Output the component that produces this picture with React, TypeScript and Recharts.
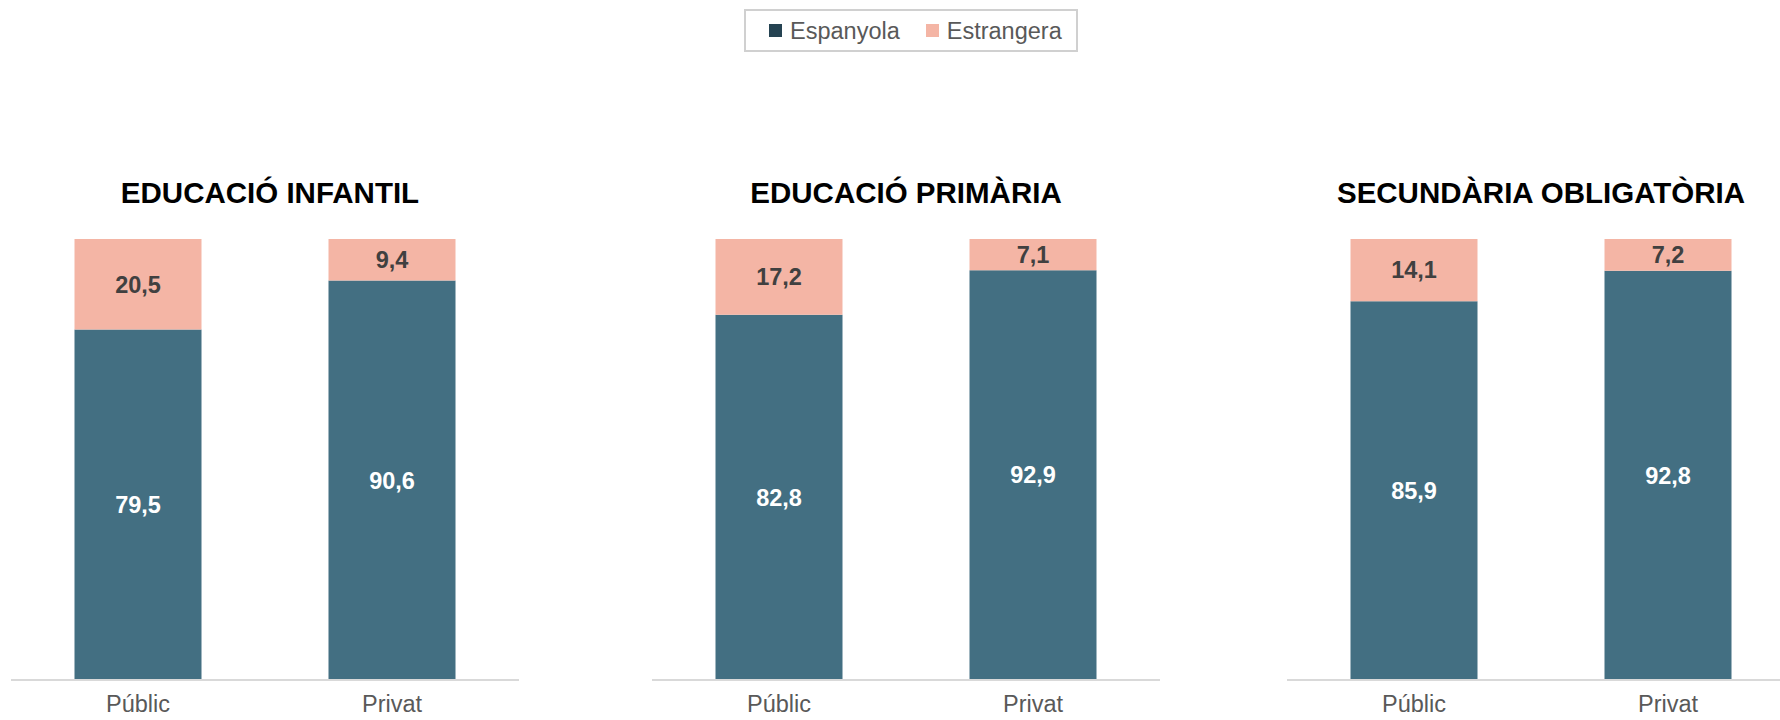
import React from 'react';
import { BarChart, Bar, XAxis, YAxis, LabelList } from 'recharts';

const categories = ['Públic', 'Privat'];
const titles = ['EDUCACIÓ INFANTIL', 'EDUCACIÓ PRIMÀRIA', 'SECUNDÀRIA OBLIGATÒRIA'];
const espanyolaInfantil = [79.5, 90.6];
const estrangeraInfantil = [20.5, 9.4];
const espanyolaPrimaria = [82.8, 92.9];
const estrangeraPrimaria = [17.2, 7.1];
const espanyolaSecundaria = [85.9, 92.8];
const estrangeraSecundaria = [14.1, 7.2];
const seriesNames = ['Espanyola', 'Estrangera'];

const COLOR_ESP = '#436F82';
const COLOR_EST = '#F4B5A5';
const LEGEND_ESP = '#254352';
const FONT = '"Liberation Sans", Arial, sans-serif';

const build = (esp: number[], est: number[]) =>
  categories.map((c, i) => ({ cat: c, esp: esp[i], est: est[i] }));

const panelData = [
  build(espanyolaInfantil, estrangeraInfantil),
  build(espanyolaPrimaria, estrangeraPrimaria),
  build(espanyolaSecundaria, estrangeraSecundaria),
];
const panelLeft = [11, 652, 1287];
const PANEL_W = 508;

const fmt = (v: any) => Number(v).toFixed(1).replace('.', ',');

function Panel({ data, left, title, titleShift }: { data: any[]; left: number; title: string; titleShift: number }) {
  return (
    <>
      <div
        style={{
          position: 'absolute',
          left: left + titleShift,
          top: 175,
          width: PANEL_W,
          textAlign: 'center',
          fontFamily: FONT,
          fontWeight: 'bold',
          fontSize: 29.5,
          lineHeight: '36px',
          color: '#000',
          whiteSpace: 'nowrap',
        }}
      >
        {title}
      </div>
      <div style={{ position: 'absolute', left, top: 200 }}>
        <BarChart
          width={PANEL_W}
          height={520}
          data={data}
          margin={{ top: 39, right: 0, bottom: 0, left: 0 }}
          barCategoryGap="25%"
        >
          <XAxis
            dataKey="cat"
            height={40}
            axisLine={{ stroke: '#D9D9D9', strokeWidth: 2 }}
            tickLine={false}
            tickSize={0}
            tickMargin={15}
            tick={{ fill: '#595959', fontSize: 23.5, fontFamily: FONT }}
          />
          <YAxis hide domain={[0, 100]} />
          <Bar dataKey="esp" stackId="a" fill={COLOR_ESP} isAnimationActive={false}>
            <LabelList
              dataKey="esp"
              position="center"
              fill="#FFFFFF"
              fontSize={23.5}
              fontWeight="bold"
              fontFamily={FONT}
              formatter={fmt}
            />
          </Bar>
          <Bar dataKey="est" stackId="a" fill={COLOR_EST} isAnimationActive={false}>
            <LabelList
              dataKey="est"
              position="center"
              fill="#404040"
              fontSize={23.5}
              fontWeight="bold"
              fontFamily={FONT}
              formatter={fmt}
            />
          </Bar>
        </BarChart>
      </div>
    </>
  );
}

export default function App() {
  const legendColors = [LEGEND_ESP, COLOR_EST];
  return (
    <div
      style={{
        position: 'absolute',
        left: 0,
        top: 0,
        width: 1780,
        height: 720,
        overflow: 'hidden',
        background: '#fff',
        fontFamily: FONT,
      }}
    >
      <div
        style={{
          position: 'absolute',
          left: 744,
          top: 9,
          width: 334,
          height: 43,
          boxSizing: 'border-box',
          border: '2px solid #D0D0D0',
          display: 'flex',
          alignItems: 'center',
          paddingLeft: 23,
        }}
      >
        {seriesNames.map((n, i) => (
          <div key={n} style={{ display: 'flex', alignItems: 'center', marginRight: 26 }}>
            <div style={{ width: 13, height: 13, background: legendColors[i], marginRight: 8 }} />
            <span style={{ fontSize: 23.5, color: '#595959', lineHeight: '26px' }}>{n}</span>
          </div>
        ))}
      </div>
      {panelData.map((d, i) => (
        <Panel key={i} data={d} left={panelLeft[i]} title={titles[i]} titleShift={i === 0 ? 5 : 0} />
      ))}
    </div>
  );
}
